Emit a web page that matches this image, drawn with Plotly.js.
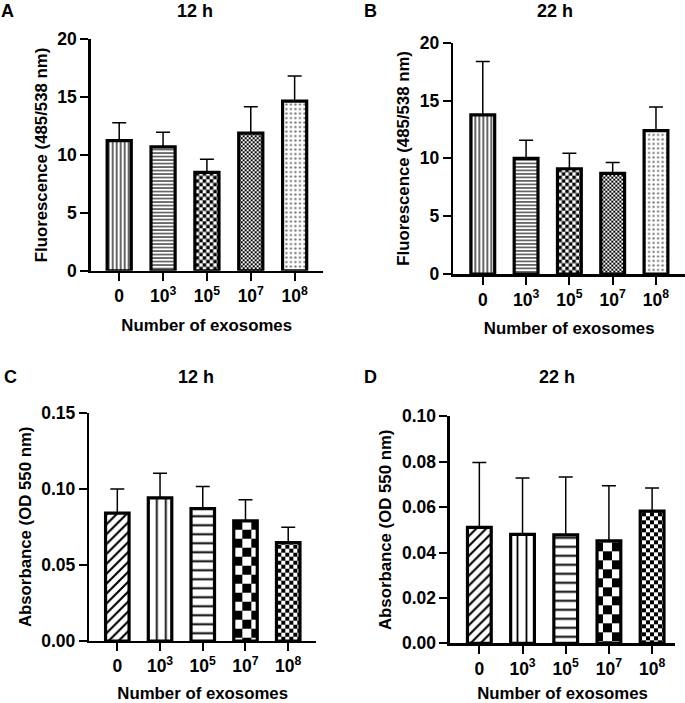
<!DOCTYPE html>
<html><head><meta charset="utf-8">
<script src="https://cdn.plot.ly/plotly-3.0.1.min.js"></script>
<style>html,body{margin:0;padding:0;background:#fff}#chart{width:685px;height:703px}</style>
</head><body><div id="chart"></div>
<script>
// ---- data ----
const categories = ['0', '10<sup>3</sup>', '10<sup>5</sup>', '10<sup>7</sup>', '10<sup>8</sup>'];
const fluor12h = [11.25, 10.7, 8.5, 11.9, 14.65];
const fluor12hErr = [1.54, 1.26, 1.13, 2.27, 2.18];
const fluor22h = [13.75, 10.0, 9.1, 8.7, 12.4];
const fluor22hErr = [4.63, 1.56, 1.33, 0.95, 2.03];
const abs12h = [0.084, 0.094, 0.087, 0.079, 0.0647];
const abs12hErr = [0.0159, 0.0162, 0.0146, 0.0138, 0.0100];
const abs22h = [0.0511, 0.0480, 0.0478, 0.0451, 0.0582];
const abs22hErr = [0.0286, 0.0248, 0.0255, 0.0243, 0.0102];
const fluorTicks = [0, 5, 10, 15, 20];
const abs12Ticks = [0, 0.05, 0.10, 0.15];
const abs22Ticks = [0, 0.02, 0.04, 0.06, 0.08, 0.10];
const panelLetters = ['A', 'B', 'C', 'D'];
const panelTitles = ['12 h', '22 h', '12 h', '22 h'];
const xTitle = 'Number of exosomes';
const fluorTitle = 'Fluorescence (485/538 nm)';
const absTitle = 'Absorbance (OD 550 nm)';

// ---- styles ----
const FONT = 'Liberation Sans, Arial, sans-serif';
const topPatterns = [
  {shape: '|', size: 4, solidity: 0.3},
  {shape: '-', size: 3.5, solidity: 0.3},
  {checker: 7},
  {checker: 4},
  {shape: '.', size: 4.5, solidity: 0.2, fg: '#777'}
];
const bottomPatterns = [
  {shape: '/', size: 7, solidity: 0.3},
  {shape: '|', size: 9, solidity: 0.2},
  {shape: '-', size: 9, solidity: 0.22},
  {checker: 18},
  {checker: 8}
];
function pat(p) {
  if (p.checker) {
    const s = p.checker, h = s / 2;
    return {path: `M0,0H${h}V${h}H0Z M${h},${h}H${s}V${s}H${h}Z`, size: s,
            fgcolor: '#000', bgcolor: '#fff', fillmode: 'replace', solidity: 0.5};
  }
  return {shape: p.shape, size: p.size, solidity: p.solidity,
          fgcolor: p.fg || '#000', bgcolor: '#fff', fillmode: 'replace'};
}

const panels = [
  {vals: fluor12h, errs: fluor12hErr, xa: 'x', ya: 'y', pats: topPatterns},
  {vals: fluor22h, errs: fluor22hErr, xa: 'x2', ya: 'y2', pats: topPatterns},
  {vals: abs12h, errs: abs12hErr, xa: 'x3', ya: 'y3', pats: bottomPatterns},
  {vals: abs22h, errs: abs22hErr, xa: 'x4', ya: 'y4', pats: bottomPatterns}
];

const traces = [];
panels.forEach(p => {
  p.vals.forEach((v, i) => {
    traces.push({
      type: 'bar', x: [categories[i]], y: [v], width: 0.55,
      xaxis: p.xa, yaxis: p.ya, showlegend: false, hoverinfo: 'skip',
      marker: {color: '#fff', line: {color: '#000', width: 3.2}, pattern: pat(p.pats[i])},
      error_y: {type: 'data', symmetric: false, array: [p.errs[i]], arrayminus: [0],
                color: '#000', thickness: 1.5, width: 7}
    });
  });
});

const tickFont = {family: FONT, size: 17.5, weight: 'bold', color: '#000'};
const axTitleFont = {family: FONT, size: 16.8, weight: 'bold', color: '#000'};
const titleFont = {family: FONT, size: 18, weight: 'bold', color: '#000'};
function xAxis(domain, range, anchor) {
  return {domain, range, anchor, type: 'category', showline: true, linecolor: '#000', linewidth: 2.5,
    ticks: 'outside', ticklen: 8, tickwidth: 2, tickcolor: '#000', tickfont: tickFont,
    showgrid: false, zeroline: false, fixedrange: true,
    title: {text: xTitle, font: axTitleFont, standoff: 14}};
}
function yAxis(domain, range, anchor, tickvals, fmt, title) {
  return {domain, range, anchor, tickvals, tickformat: fmt, showline: true, linecolor: '#000', linewidth: 2.5,
    ticks: 'outside', ticklen: 8, tickwidth: 2, tickcolor: '#000', tickfont: tickFont,
    showgrid: false, zeroline: false, fixedrange: true,
    title: {text: title, font: axTitleFont, standoff: 6}};
}

// [x, y, yanchor]
const letterPos = [[0.0, 1.0, 'top'], [0.53, 1.0, 'top'], [0.0044, 0.4637, 'middle'], [0.53, 0.4637, 'middle']];
const titlePos = [[0.284, 1.0, 'top'], [0.810, 1.0, 'top'], [0.2858, 0.4637, 'middle'], [0.813, 0.4637, 'middle']];
const annotations = [];
panelLetters.forEach((t, i) => {
  annotations.push({text: t, xref: 'paper', yref: 'paper', x: letterPos[i][0], y: letterPos[i][1],
    xanchor: 'left', yanchor: letterPos[i][2], borderpad: 0, showarrow: false, font: titleFont});
  annotations.push({text: panelTitles[i], xref: 'paper', yref: 'paper', x: titlePos[i][0], y: titlePos[i][1],
    xanchor: 'center', yanchor: titlePos[i][2], borderpad: 0, showarrow: false, font: titleFont});
});

const layout = {
  width: 685, height: 703, margin: {l: 0, r: 0, t: 0, b: 0},
  paper_bgcolor: '#fff', plot_bgcolor: 'rgba(0,0,0,0)', barmode: 'overlay',
  font: {family: FONT, color: '#000'},
  xaxis: xAxis([0.1324, 0.4711], [-0.65, 4.64], 'y'),
  yaxis: yAxis([0.6149, 0.9441], [0, 20], 'x', fluorTicks, '', fluorTitle),
  xaxis2: xAxis([0.6618, 1.0], [-0.68, 4.67], 'y2'),
  yaxis2: yAxis([0.6102, 0.9393], [0, 20], 'x2', fluorTicks, '', fluorTitle),
  xaxis3: xAxis([0.1304, 0.4613], [-0.655, 4.65], 'y3'),
  yaxis3: yAxis([0.0882, 0.4129], [0, 0.15], 'x3', abs12Ticks, '.2f', absTitle),
  xaxis4: xAxis([0.6569, 0.9854], [-0.68, 4.53], 'y4'),
  yaxis4: yAxis([0.0849, 0.4078], [0, 0.10], 'x4', abs22Ticks, '.2f', absTitle),
  annotations
};

Plotly.newPlot('chart', traces, layout, {displayModeBar: false, staticPlot: true});
</script>
</body></html>
